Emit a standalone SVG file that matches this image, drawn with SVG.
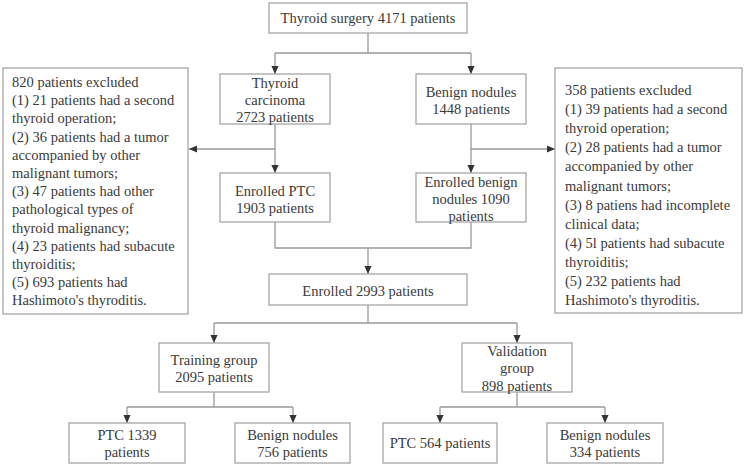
<svg xmlns="http://www.w3.org/2000/svg" width="744" height="465" viewBox="0 0 744 465">
<style>
rect{fill:#fff;stroke:#a6a6a6;stroke-width:1.3}
text{font-family:'Liberation Serif','Times New Roman','DejaVu Serif',serif;font-size:14.5px;fill:#3a3a3a}
.c{text-anchor:middle}
.ln{fill:none;stroke:#999;stroke-width:1.3}
</style>
<defs>
<marker id="ah" viewBox="0 0 10 10" refX="10" refY="5" markerWidth="8" markerHeight="8" markerUnits="userSpaceOnUse" orient="auto">
<path d="M0,0.5 L10,5 L0,9.5 Z" fill="#333"/>
</marker>
</defs>
<rect width="744" height="465" style="fill:#fff;stroke:none"/>
<g id="connectors">
<path class="ln" d="M368,33 V53 M275,53 H471"/>
<path class="ln" d="M275,53 V74" marker-end="url(#ah)"/>
<path class="ln" d="M471,53 V74" marker-end="url(#ah)"/>
<path class="ln" d="M275,124 V173" marker-end="url(#ah)"/>
<path class="ln" d="M471,124 V173" marker-end="url(#ah)"/>
<path class="ln" d="M275,149 H189" marker-end="url(#ah)"/>
<path class="ln" d="M471,149 H555" marker-end="url(#ah)"/>
<path class="ln" d="M275,222 V248 H471 V222"/>
<path class="ln" d="M368,248 V274" marker-end="url(#ah)"/>
<path class="ln" d="M368,305 V323 M214,323 H517"/>
<path class="ln" d="M214,323 V343" marker-end="url(#ah)"/>
<path class="ln" d="M517,323 V343" marker-end="url(#ah)"/>
<path class="ln" d="M214,392 V407 M127,407 H293"/>
<path class="ln" d="M127,407 V423" marker-end="url(#ah)"/>
<path class="ln" d="M293,407 V423" marker-end="url(#ah)"/>
<path class="ln" d="M517,392 V407 M440,407 H605"/>
<path class="ln" d="M440,407 V423" marker-end="url(#ah)"/>
<path class="ln" d="M605,407 V423" marker-end="url(#ah)"/>
</g>
<g font-family="Liberation Serif, serif">
<g id="surgery"><rect x="269" y="3" width="198" height="30"/><text class="c" x="368" y="23">Thyroid surgery 4171 patients</text></g>
<g id="carcinoma"><rect x="220" y="74" width="110" height="50"/><text class="c" x="275" y="88">Thyroid</text><text class="c" x="275" y="104.5">carcinoma</text><text class="c" x="275" y="122">2723 patients</text></g>
<g id="benign"><rect x="416" y="74" width="110" height="50"/><text class="c" x="471" y="97">Benign nodules</text><text class="c" x="471" y="113.5">1448 patients</text></g>
<g id="excl-left"><rect x="3" y="68" width="185" height="246"/>
<text x="12" y="87">820 patients excluded</text>
<text x="12" y="105.2">(1) 21 patients had a second</text>
<text x="12" y="123.4">thyroid operation;</text>
<text x="12" y="141.6">(2) 36 patients had a tumor</text>
<text x="12" y="159.8">accompanied by other</text>
<text x="12" y="178">malignant tumors;</text>
<text x="12" y="196.2">(3) 47 patients had other</text>
<text x="12" y="214.4">pathological types of</text>
<text x="12" y="232.6">thyroid malignancy;</text>
<text x="12" y="250.8">(4) 23 patients had subacute</text>
<text x="12" y="269">thyroiditis;</text>
<text x="12" y="287.2">(5) 693 patients had</text>
<text x="12" y="305.4">Hashimoto's thyroditis.</text>
</g>
<g id="excl-right"><rect x="555" y="68" width="187" height="245"/>
<text x="565" y="95">358 patients excluded</text>
<text x="565" y="114.1">(1) 39 patients had a second</text>
<text x="565" y="133.2">thyroid operation;</text>
<text x="565" y="152.3">(2) 28 patients had a tumor</text>
<text x="565" y="171.4">accompanied by other</text>
<text x="565" y="190.5">malignant tumors;</text>
<text x="565" y="209.6">(3) 8 patiens had incomplete</text>
<text x="565" y="228.7">clinical data;</text>
<text x="565" y="247.8">(4) 5l patients had subacute</text>
<text x="565" y="266.9">thyroiditis;</text>
<text x="565" y="286">(5) 232 patients had</text>
<text x="565" y="305.1">Hashimoto's thyroditis.</text>
</g>
<g id="enrolled-ptc"><rect x="220" y="173" width="110" height="49"/><text class="c" x="275" y="196">Enrolled PTC</text><text class="c" x="275" y="212.5">1903 patients</text></g>
<g id="enrolled-benign"><rect x="416" y="173" width="110" height="49"/><text class="c" x="471" y="187">Enrolled benign</text><text class="c" x="471" y="203.5">nodules 1090</text><text class="c" x="471" y="221">patients</text></g>
<g id="enrolled"><rect x="269" y="274" width="198" height="31"/><text class="c" x="368" y="296">Enrolled 2993 patients</text></g>
<g id="training"><rect x="159" y="343" width="110" height="49"/><text class="c" x="214" y="365">Training group</text><text class="c" x="214" y="382">2095 patients</text></g>
<g id="validation"><rect x="462" y="343" width="110" height="49"/><text class="c" x="517" y="356">Validation</text><text class="c" x="517" y="373">group</text><text class="c" x="517" y="391">898 patients</text></g>
<g id="ptc1339"><rect x="69" y="423" width="116" height="40"/><text class="c" x="127" y="440">PTC 1339</text><text class="c" x="127" y="457">patients</text></g>
<g id="benign756"><rect x="235" y="423" width="115" height="40"/><text class="c" x="292.5" y="440">Benign nodules</text><text class="c" x="292.5" y="457">756 patients</text></g>
<g id="ptc564"><rect x="383" y="423" width="114" height="40"/><text class="c" x="440" y="448">PTC 564 patients</text></g>
<g id="benign334"><rect x="547" y="423" width="116" height="40"/><text class="c" x="605" y="440">Benign nodules</text><text class="c" x="605" y="457">334 patients</text></g>
</g>
</svg>
